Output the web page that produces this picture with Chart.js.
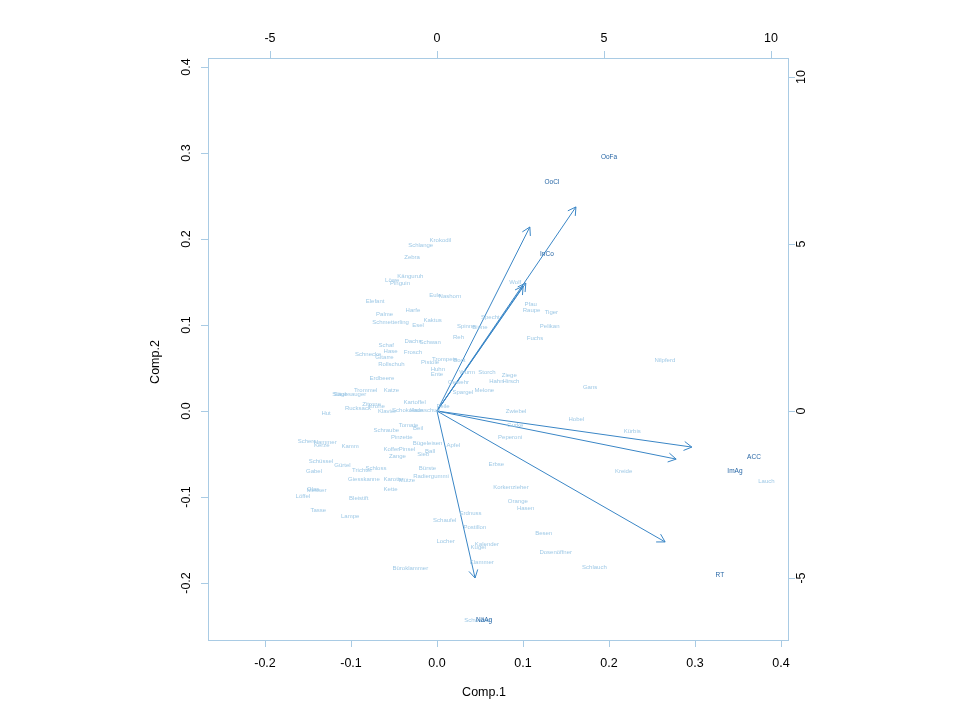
<!DOCTYPE html>
<html>
<head>
<meta charset="utf-8">
<script src="https://cdn.jsdelivr.net/npm/chart.js@4/dist/chart.umd.min.js"></script>
<style>
  html, body { margin: 0; padding: 0; background: #fff; }
  #wrap { width: 960px; height: 718px; }
</style>
</head>
<body>
<div id="wrap"><canvas id="biplot" width="960" height="718"></canvas></div>
<script>
// observation scores (Comp.1 / Comp.2)
const obsNames = ['Krokodil','Schlange','Zebra','Känguruh','Löwe','Pinguin','Elefant','Eule','Nashorn','Harfe',
  'Palme','Schmetterling','Esel','Kaktus','Spinne','Biene','Reh','Dachs','Schwan','Schaf',
  'Hase','Frosch','Schnecke','Gitarre','Rollschuh','Pistole','Trompete','Boot','Huhn','Ente',
  'Wurm','Gewehr','Erdbeere','Trommel','Katze','Staubsauger','Säge','Zitrone','Rucksack','Krone',
  'Klavier','Schokolade','Hausschuh','Kartoffel','Feile','Hut','Tomate','Beil','Schraube','Pinzette',
  'Schere','Hammer','Kerze','Kamm','Koffer','Pinsel','Zange','Bügeleisen','Apfel','Sieb',
  'Ball','Schüssel','Gürtel','Gabel','Trichter','Schloss','Giesskanne','Karotte','Mütze','Bürste',
  'Radiergummi','Kette','Messer','Glas','Löffel','Bleistift','Tasse','Lampe','Schaufel','Wolf',
  'Pfau','Raupe','Tiger','Specht','Pelikan','Fuchs','Storch','Ziege','Hahn','Hirsch',
  'Melone','Spargel','Gans','Nilpferd','Zwiebel','Hobel','Gurke','Peperoni','Kürbis','Erbse',
  'Kreide','Korkenzieher','Orange','Hasen','Lauch','Erdnuss','Postillon','Locher','Kalender','Kugel',
  'Klammer','Besen','Dosenöffner','Schlauch','Büroklammer','Schwamm'];
const obsX = [0.004,-0.019,-0.029,-0.031,-0.052,-0.043,-0.072,-0.002,0.015,-0.028,
  -0.061,-0.054,-0.022,-0.005,0.034,0.050,0.025,-0.028,-0.008,-0.059,
  -0.054,-0.028,-0.080,-0.061,-0.053,-0.008,0.009,0.026,0.001,0.000,
  0.035,0.025,-0.064,-0.083,-0.053,-0.102,-0.112,-0.076,-0.092,-0.070,
  -0.058,-0.034,-0.014,-0.026,0.007,-0.129,-0.033,-0.022,-0.059,-0.041,
  -0.151,-0.130,-0.134,-0.101,-0.053,-0.035,-0.046,-0.011,0.019,-0.016,
  -0.008,-0.135,-0.110,-0.143,-0.087,-0.071,-0.085,-0.051,-0.035,-0.011,
  -0.007,-0.054,-0.140,-0.144,-0.156,-0.091,-0.138,-0.101,0.009,0.091,
  0.109,0.110,0.133,0.062,0.131,0.114,0.058,0.084,0.069,0.086,
  0.055,0.030,0.178,0.265,0.092,0.162,0.091,0.085,0.227,0.069,
  0.217,0.086,0.094,0.103,0.383,0.039,0.044,0.010,0.058,0.048,
  0.052,0.124,0.138,0.183,-0.031,0.048];
const obsY = [0.198,0.193,0.179,0.156,0.152,0.148,0.128,0.135,0.133,0.117,
  0.112,0.103,0.100,0.105,0.098,0.097,0.086,0.081,0.080,0.076,
  0.069,0.068,0.066,0.062,0.054,0.056,0.060,0.059,0.049,0.043,
  0.045,0.033,0.038,0.024,0.024,0.019,0.019,0.008,0.003,0.005,
  0.000,0.001,0.001,0.010,0.005,-0.003,-0.017,-0.020,-0.022,-0.031,
  -0.035,-0.036,-0.040,-0.041,-0.045,-0.045,-0.053,-0.038,-0.040,-0.050,
  -0.047,-0.058,-0.063,-0.070,-0.069,-0.067,-0.079,-0.079,-0.081,-0.067,
  -0.076,-0.091,-0.092,-0.091,-0.099,-0.101,-0.115,-0.123,-0.127,0.150,
  0.124,0.117,0.115,0.109,0.099,0.085,0.045,0.042,0.034,0.035,
  0.024,0.022,0.028,0.059,0.000,-0.010,-0.017,-0.031,-0.024,-0.062,
  -0.070,-0.089,-0.105,-0.113,-0.082,-0.119,-0.135,-0.152,-0.155,-0.158,
  -0.176,-0.142,-0.164,-0.182,-0.183,-0.244];

// variable labels and loading arrows (top / right scale)
const varNames = ['OoFa','OoCl','InCo','ACC','ImAg','RT','NäAg'];
const varX = [5.15, 3.44, 3.29, 9.49, 8.92, 8.47, 1.41];
const varY = [7.60, 6.86, 4.70, -1.38, -1.80, -4.91, -6.26];
const arrowX = [2.78, 4.16, 2.66, 2.58, 7.63, 7.16, 6.83, 1.14];
const arrowY = [5.51, 6.11, 3.83, 3.74, -1.08, -1.44, -3.92, -5.00];

// axis ticks
const bottomTicks = [-0.2, -0.1, 0.0, 0.1, 0.2, 0.3, 0.4];
const leftTicks = [-0.2, -0.1, 0.0, 0.1, 0.2, 0.3, 0.4];
const topTicks = [-5, 0, 5, 10];
const rightTicks = [-5, 0, 5, 10];

const obsColor = '#9fc9e6';
const varColor = '#2867a6';
const arrowColor = '#3a86c6';
const frameColor = '#a9cbe4';
const FONT = '"Liberation Sans", Arial, sans-serif';

const datasets = [{
  label: 'obs',
  data: obsX.map((x, i) => ({ x: x, y: obsY[i] })),
  pointRadius: 0,
  xAxisID: 'x',
  yAxisID: 'y'
}, {
  label: 'vars',
  data: varX.map((x, i) => ({ x: x, y: varY[i] })),
  pointRadius: 0,
  xAxisID: 'x2',
  yAxisID: 'y2'
}];
arrowX.forEach((ax, i) => {
  datasets.push({
    label: 'arrow' + i,
    data: [{ x: 0, y: 0 }, { x: ax, y: arrowY[i] }],
    showLine: true,
    borderColor: arrowColor,
    borderWidth: 1,
    pointRadius: 0,
    xAxisID: 'x2',
    yAxisID: 'y2'
  });
});

const biplotPlugin = {
  id: 'biplot',
  afterDatasetsDraw(chart) {
    const ctx = chart.ctx;
    ctx.save();
    ctx.textAlign = 'center';
    ctx.textBaseline = 'middle';
    // observation names
    ctx.font = '6px ' + FONT;
    ctx.fillStyle = obsColor;
    chart.getDatasetMeta(0).data.forEach((pt, i) => {
      ctx.fillText(obsNames[i], pt.x, pt.y);
    });
    // arrowheads
    ctx.strokeStyle = arrowColor;
    ctx.lineWidth = 1;
    for (let d = 2; d < chart.data.datasets.length; d++) {
      const pts = chart.getDatasetMeta(d).data;
      const a = pts[0], b = pts[1];
      const ang = Math.atan2(b.y - a.y, b.x - a.x);
      const len = 9, spread = Math.PI / 6;
      ctx.beginPath();
      ctx.moveTo(b.x - len * Math.cos(ang - spread), b.y - len * Math.sin(ang - spread));
      ctx.lineTo(b.x, b.y);
      ctx.lineTo(b.x - len * Math.cos(ang + spread), b.y - len * Math.sin(ang + spread));
      ctx.stroke();
    }
    // variable names
    ctx.font = '6.5px ' + FONT;
    ctx.fillStyle = varColor;
    chart.getDatasetMeta(1).data.forEach((pt, i) => {
      ctx.fillText(varNames[i], pt.x, pt.y);
    });
    ctx.restore();
  },
  afterDraw(chart) {
    const ctx = chart.ctx;
    const ca = chart.chartArea;
    const s = chart.scales;
    const tl = 7;
    ctx.save();
    ctx.strokeStyle = frameColor;
    ctx.lineWidth = 1;
    ctx.strokeRect(Math.round(ca.left) + 0.5, Math.round(ca.top) + 0.5,
      Math.round(ca.right - ca.left), Math.round(ca.bottom - ca.top));
    ctx.beginPath();
    bottomTicks.forEach(v => {
      const px = Math.round(s.x.getPixelForValue(v)) + 0.5;
      ctx.moveTo(px, ca.bottom); ctx.lineTo(px, ca.bottom + tl);
    });
    topTicks.forEach(v => {
      const px = Math.round(s.x2.getPixelForValue(v)) + 0.5;
      ctx.moveTo(px, ca.top); ctx.lineTo(px, ca.top - tl);
    });
    leftTicks.forEach(v => {
      const py = Math.round(s.y.getPixelForValue(v)) + 0.5;
      ctx.moveTo(ca.left, py); ctx.lineTo(ca.left - tl, py);
    });
    rightTicks.forEach(v => {
      const py = Math.round(s.y2.getPixelForValue(v)) + 0.5;
      ctx.moveTo(ca.right, py); ctx.lineTo(ca.right + tl, py);
    });
    ctx.stroke();

    ctx.fillStyle = '#000';
    ctx.font = '12.5px ' + FONT;
    ctx.textAlign = 'center';
    ctx.textBaseline = 'middle';
    bottomTicks.forEach(v => {
      ctx.fillText(v.toFixed(1), s.x.getPixelForValue(v), ca.bottom + 24);
    });
    topTicks.forEach(v => {
      ctx.fillText(String(v), s.x2.getPixelForValue(v), ca.top - 19);
    });
    leftTicks.forEach(v => {
      ctx.save();
      ctx.translate(ca.left - 21, s.y.getPixelForValue(v));
      ctx.rotate(-Math.PI / 2);
      ctx.fillText(v.toFixed(1), 0, 0);
      ctx.restore();
    });
    rightTicks.forEach(v => {
      ctx.save();
      ctx.translate(ca.right + 14, s.y2.getPixelForValue(v));
      ctx.rotate(-Math.PI / 2);
      ctx.fillText(String(v), 0, 0);
      ctx.restore();
    });
    // axis titles
    ctx.fillText('Comp.1', (ca.left + ca.right) / 2 - 14, ca.bottom + 53);
    ctx.save();
    ctx.translate(ca.left - 52, (ca.top + ca.bottom) / 2 + 13);
    ctx.rotate(-Math.PI / 2);
    ctx.fillText('Comp.2', 0, 0);
    ctx.restore();
    ctx.restore();
  }
};

new Chart(document.getElementById('biplot').getContext('2d'), {
  type: 'scatter',
  data: { datasets: datasets },
  options: {
    responsive: false,
    animation: false,
    devicePixelRatio: 1,
    layout: { padding: { left: 208, top: 58, right: 172, bottom: 78 } },
    plugins: { legend: { display: false }, tooltip: { enabled: false } },
    scales: {
      x: { type: 'linear', display: false, min: -0.26628, max: 0.40814 },
      y: { type: 'linear', display: false, min: -0.26628, max: 0.41047 },
      x2: { type: 'linear', display: false, position: 'top', min: -6.856, max: 10.509 },
      y2: { type: 'linear', display: false, position: 'right', min: -6.856, max: 10.569 }
    }
  },
  plugins: [biplotPlugin]
});
</script>
</body>
</html>
